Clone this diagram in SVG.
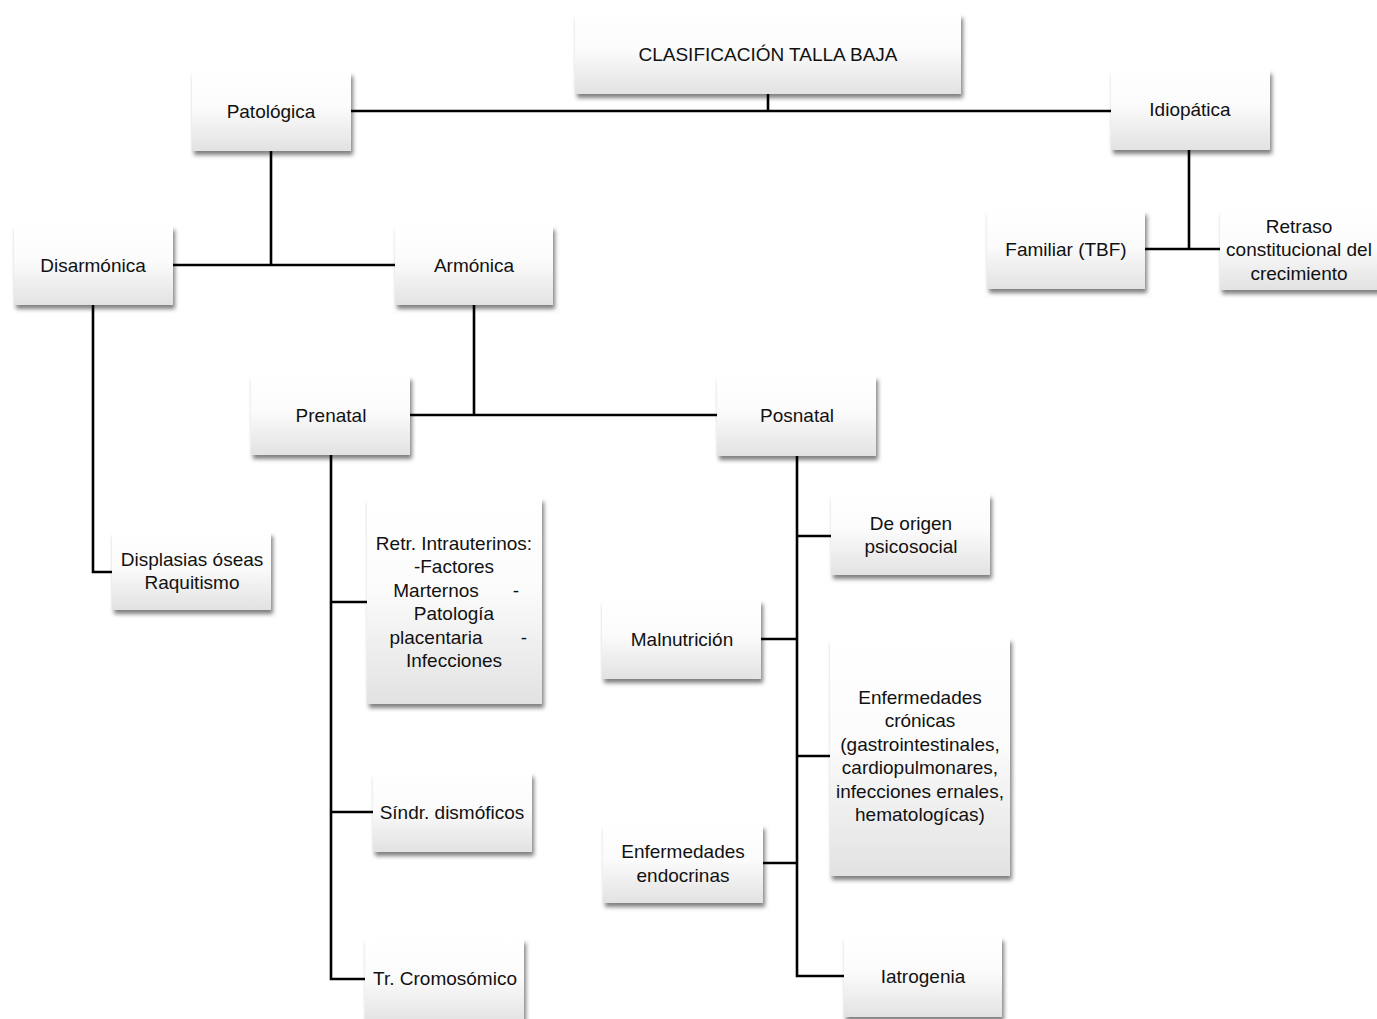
<svg xmlns="http://www.w3.org/2000/svg" width="1377" height="1019" viewBox="0 0 1377 1019">
  <defs>
    <linearGradient id="boxFill" x1="0" y1="0" x2="0" y2="1">
      <stop offset="0" stop-color="#ffffff"/>
      <stop offset="0.45" stop-color="#fbfbfb"/>
      <stop offset="1" stop-color="#e2e2e2"/>
    </linearGradient>
    <filter id="shadow" x="-10%" y="-10%" width="125%" height="130%">
      <feDropShadow dx="2" dy="4" stdDeviation="2.2" flood-color="#000" flood-opacity="0.5"/>
    </filter>
    <style>
      .box { fill: url(#boxFill); filter: url(#shadow); }
      .lbl { font-family: "Liberation Sans", Arial, sans-serif; font-size: 19px; fill: #111111; text-anchor: middle; }
      .wire { fill: none; stroke: #000; stroke-width: 2.6; stroke-linejoin: miter; stroke-linecap: butt; }
    </style>
  </defs>
  <rect width="1377" height="1019" fill="#ffffff"/>

  <!-- connectors -->
  <g id="connectors" class="wire">
    <path d="M768 94 V111 M351 111 H1111"/>
    <path d="M271 151 V265 M173 265 H395"/>
    <path d="M1189 150 V249 M1145 249 H1220"/>
    <path d="M474 305 V415 M410 415 H717"/>
    <path d="M93 305 V572 H112"/>
    <path d="M331 455 V979 H365 M331 602 H367 M331 812 H373"/>
    <path d="M797 456 V976 H844 M797 536 H831 M797 639 H761 M797 756 H830 M797 863 H763"/>
  </g>

  <!-- nodes -->
  <g id="n-titulo"><rect class="box" x="575" y="14" width="386" height="80"/>
    <text class="lbl" x="768" y="61">CLASIFICACIÓN TALLA BAJA</text></g>
  <g id="n-patologica"><rect class="box" x="192" y="72" width="159" height="79"/>
    <text class="lbl" x="271" y="118">Patológica</text></g>
  <g id="n-idiopatica"><rect class="box" x="1111" y="70" width="159" height="80"/>
    <text class="lbl" x="1190" y="116">Idiopática</text></g>
  <g id="n-disarmonica"><rect class="box" x="14" y="226" width="159" height="79"/>
    <text class="lbl" x="93" y="272">Disarmónica</text></g>
  <g id="n-armonica"><rect class="box" x="395" y="226" width="158" height="79"/>
    <text class="lbl" x="474" y="272">Armónica</text></g>
  <g id="n-familiar"><rect class="box" x="987" y="211" width="158" height="78"/>
    <text class="lbl" x="1066" y="256">Familiar (TBF)</text></g>
  <g id="n-retraso"><rect class="box" x="1220" y="211" width="162" height="79"/>
    <text class="lbl" x="1299" y="233">Retraso</text>
    <text class="lbl" x="1299" y="256">constitucional del</text>
    <text class="lbl" x="1299" y="280">crecimiento</text></g>
  <g id="n-prenatal"><rect class="box" x="251" y="376" width="159" height="79"/>
    <text class="lbl" x="331" y="422">Prenatal</text></g>
  <g id="n-posnatal"><rect class="box" x="717" y="376" width="159" height="80"/>
    <text class="lbl" x="797" y="422">Posnatal</text></g>
  <g id="n-displasias"><rect class="box" x="112" y="532" width="159" height="78"/>
    <text class="lbl" x="192" y="566">Displasias óseas</text>
    <text class="lbl" x="192" y="589">Raquitismo</text></g>
  <g id="n-retr-intrauterinos"><rect class="box" x="367" y="498" width="175" height="206"/>
    <text class="lbl" x="454" y="550">Retr. Intrauterinos:</text>
    <text class="lbl" x="454" y="573">-Factores</text>
    <text class="lbl" x="436" y="597">Marternos</text>
    <text class="lbl" x="516" y="597">-</text>
    <text class="lbl" x="454" y="620">Patología</text>
    <text class="lbl" x="436" y="644">placentaria</text>
    <text class="lbl" x="524" y="644">-</text>
    <text class="lbl" x="454" y="667">Infecciones</text></g>
  <g id="n-sindr"><rect class="box" x="373" y="773" width="159" height="79"/>
    <text class="lbl" x="452" y="819">Síndr. dismóficos</text></g>
  <g id="n-cromosomico"><rect class="box" x="365" y="939" width="159" height="85"/>
    <text class="lbl" x="445" y="985">Tr. Cromosómico</text></g>
  <g id="n-psicosocial"><rect class="box" x="831" y="494" width="159" height="81"/>
    <text class="lbl" x="911" y="530">De origen</text>
    <text class="lbl" x="911" y="553">psicosocial</text></g>
  <g id="n-malnutricion"><rect class="box" x="602" y="600" width="159" height="79"/>
    <text class="lbl" x="682" y="646">Malnutrición</text></g>
  <g id="n-cronicas"><rect class="box" x="830" y="638" width="180" height="238"/>
    <text class="lbl" x="920" y="704">Enfermedades</text>
    <text class="lbl" x="920" y="727">crónicas</text>
    <text class="lbl" x="920" y="751">(gastrointestinales,</text>
    <text class="lbl" x="920" y="774">cardiopulmonares,</text>
    <text class="lbl" x="920" y="798">infecciones ernales,</text>
    <text class="lbl" x="920" y="821">hematologícas)</text></g>
  <g id="n-endocrinas"><rect class="box" x="603" y="825" width="160" height="78"/>
    <text class="lbl" x="683" y="858">Enfermedades</text>
    <text class="lbl" x="683" y="882">endocrinas</text></g>
  <g id="n-iatrogenia"><rect class="box" x="844" y="937" width="158" height="80"/>
    <text class="lbl" x="923" y="983">Iatrogenia</text></g>
</svg>
